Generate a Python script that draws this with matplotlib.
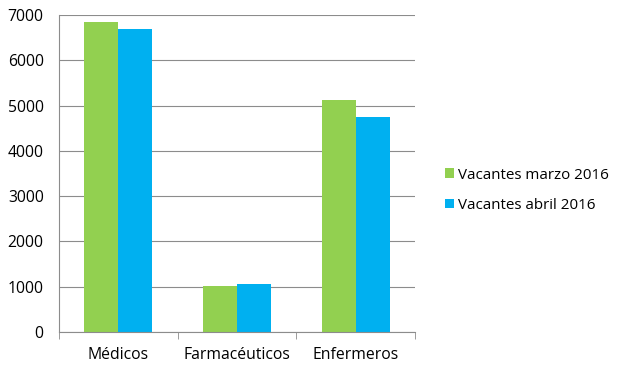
import numpy as np
import matplotlib.pyplot as plt

plt.rcParams['font.family'] = ['Open Sans', 'DejaVu Sans']

categorias = ["Médicos", "Farmacéuticos", "Enfermeros"]
series = ["Vacantes marzo 2016", "Vacantes abril 2016"]
marzo = [6840, 1010, 5115]
abril = [6700, 1055, 4755]
colores = ["#92D050", "#00B0F0"]

fig = plt.figure(figsize=(6.2, 3.68), dpi=100)
ax = fig.add_axes([59 / 620, 1 - 332 / 368, (415 - 59) / 620, (332 - 15) / 368])

x = np.arange(len(categorias))
w = 0.287
ax.bar(x - w / 2, marzo, w, color=colores[0], label=series[0])
ax.bar(x + w / 2, abril, w, color=colores[1], label=series[1])

ax.set_xlim(-0.5, 2.5)
ax.set_ylim(0, 7000)
ax.set_yticks(range(0, 7001, 1000))
ax.yaxis.grid(True, color="#8c8c8c", linewidth=0.8)
ax.set_axisbelow(True)
for s in ["top", "right"]:
    ax.spines[s].set_visible(False)
ax.spines["left"].set_color("#8c8c8c")
ax.spines["bottom"].set_color("#8c8c8c")

ax.set_xticks(x)
ax.set_xticklabels(categorias, fontsize=11.3)
ax.tick_params(axis="x", length=0, pad=11)
ax.set_xticks([-0.5, 0.5, 1.5, 2.5], minor=True)
ax.tick_params(axis="x", which="minor", length=5, color="#8c8c8c")
ax.tick_params(axis="y", length=0, labelsize=11.3, pad=11)

ax.legend(loc="upper left", bbox_to_anchor=(431 / 620, 1 - 154 / 368), bbox_transform=fig.transFigure,
          frameon=False, fontsize=10.9, handlelength=0.6, handleheight=0.6, handletextpad=0.3,
          labelspacing=1.0)

fig.savefig("out.png", dpi=100)
